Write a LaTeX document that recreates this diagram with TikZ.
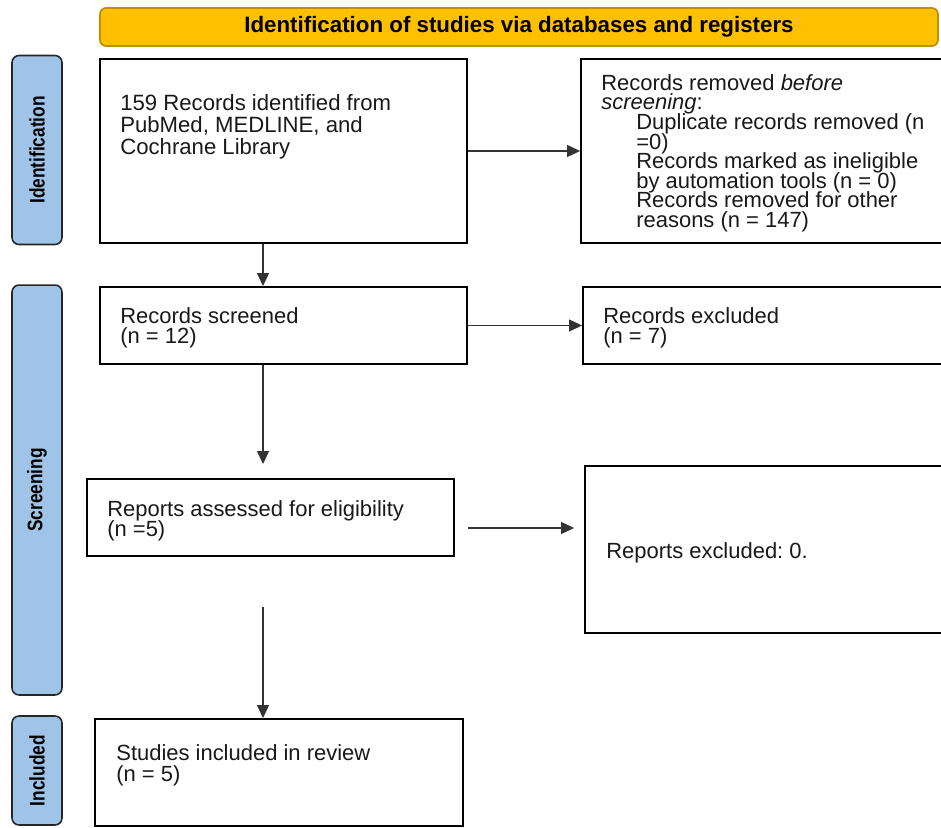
\documentclass[tikz,border=0pt]{standalone}
\usepackage{fontspec}
\setmainfont{Liberation Sans}
\newfontfamily\narrowfont[FakeStretch=0.82]{Liberation Sans Bold}
\usetikzlibrary{arrows.meta}
\definecolor{headgold}{HTML}{FFC000}
\definecolor{headedge}{HTML}{BF9000}
\definecolor{phaseblue}{HTML}{A0C4E8}
\frenchspacing
\lineskiplimit=-\maxdimen

\begin{document}
\begin{tikzpicture}[x=0.02cm, y=-0.02cm,
		stagebox/.style={draw=black, line width=1.1pt, fill=white, inner sep=0pt},
		phase/.style={draw=black!85, line width=0.9pt, fill=phaseblue, rounded corners=0.14cm, rotate=90, minimum height=1cm, inner sep=0pt, font=\narrowfont\fontsize{12}{12}\selectfont},
		boxtext/.style={anchor=north west, inner sep=0pt, align=left, text=black!90, font=\fontsize{12.5}{11.5}\selectfont},
		arr/.style={-{Triangle[length=0.26cm,width=0.24cm]}, line width=0.6pt, draw=black!80}]
		\useasboundingbox (0,0) rectangle (941,828);
		\clip (0,0) rectangle (941,828);
		
		% header and phases
		\node[draw=headedge, fill=headgold, line width=1pt, rounded corners=0.12cm, minimum width=16.76cm, minimum height=0.76cm, font=\bfseries\fontsize{12.7}{13}\selectfont] (head) at (519,27) {Identification of studies via databases and registers};
		\node[phase, minimum width=3.78cm] (idphase) at (37,150) {Identification};
		\node[phase, minimum width=8.2cm] (scrphase) at (37,490) {Screening};
		\node[phase, minimum width=2.18cm] (incphase) at (37,770.5) {Included};
		
		% boxes
		\node[stagebox, minimum width=7.34cm, minimum height=3.68cm] (ident) at (283.5,151) {};
		\node[stagebox, minimum width=8cm, minimum height=3.68cm] (removed) at (781,151) {};
		\node[stagebox, minimum width=7.34cm, minimum height=1.54cm] (screened) at (283.5,325.5) {};
		\node[stagebox, minimum width=8cm, minimum height=1.54cm] (excluded) at (783,325.5) {};
		\node[stagebox, minimum width=7.34cm, minimum height=1.54cm] (assessed) at (270.5,517.5) {};
		\node[stagebox, minimum width=8cm, minimum height=3.34cm] (repexcl) at (785,549.5) {};
		\node[stagebox, minimum width=7.36cm, minimum height=2.14cm] (included) at (279,772.5) {};
		
		% texts
		\node[boxtext, font=\fontsize{12.6}{12.5}\selectfont] (identtxt) at (120,94) {159 Records identified from\\PubMed, MEDLINE, and\\Cochrane Library};
		\node[boxtext, font=\fontsize{12.5}{11.15}\selectfont] (removedtxt) at (601,74) {Records removed \textit{before}\\\textit{screening}:\\\hspace*{0.7cm}Duplicate records removed (n\\\hspace*{0.7cm}=0)\\\hspace*{0.7cm}Records marked as ineligible\\\hspace*{0.7cm}by automation tools (n = 0)\\\hspace*{0.7cm}Records removed for other\\\hspace*{0.7cm}reasons (n = 147)};
		\node[boxtext] (screenedtxt) at (120,307) {Records screened\\(n = 12)};
		\node[boxtext] (excludedtxt) at (603,307) {Records excluded\\(n = 7)};
		\node[boxtext] (assessedtxt) at (107,500) {Reports assessed for eligibility\\(n =5)};
		\node[boxtext] (repexcltxt) at (606,542) {Reports excluded: 0.};
		\node[boxtext, font=\fontsize{12.5}{12}\selectfont] (includedtxt) at (116,744) {Studies included in review\\(n = 5)};
		
		% arrows
		\coordinate (spine) at (263,0);
		\draw[arr] (ident) -- (removed);
		\draw[arr] (ident.south -| spine) -- (screened.north -| spine);
		\draw[arr] (screened) -- (excluded);
		\draw[arr, shorten >=0.28cm] (screened.south -| spine) -- (assessed.north -| spine);
		\draw[arr, shorten <=0.26cm, shorten >=0.2cm] ([yshift=-0.21cm]assessed.east) -- ([yshift=-0.21cm]assessed.east -| repexcl.west);
		\draw[arr, shorten <=1cm] (assessed.south -| spine) -- (included.north -| spine);
	\end{tikzpicture}
\end{document}
